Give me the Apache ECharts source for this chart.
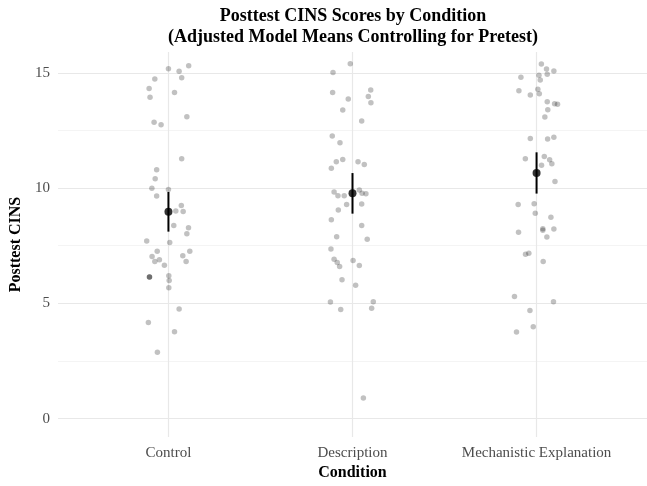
<!DOCTYPE html>
<html>
<head>
<meta charset="utf-8">
<script src="https://cdn.jsdelivr.net/npm/echarts@6/dist/echarts.min.js"></script>
<style>html,body{margin:0;padding:0;background:#fff;}#c{width:647px;height:486px;}</style>
</head>
<body>
<div id="c"></div>
<script>
const categories = ['Control', 'Description', 'Mechanistic Explanation'];
const yTicks = [0, 5, 10, 15];
const yMinorTicks = [2.5, 7.5, 12.5];

// jitter offsets (in category units) and posttest scores
const controlDx = [0,0.058,0.11,-0.074,0.072,-0.105,-0.10,0.033,0.10,-0.078,-0.04,0.072,-0.064,-0.072,-0.09,0,-0.064,0.07,0.04,0.08,0.029,0.109,0.10,-0.118,0.007,-0.061,0.116,-0.089,-0.049,-0.074,0.078,0.096,-0.022,-0.103,-0.103,-0.103,0.002,0.004,0.002,0.058,-0.109,0.033,-0.06];
const controlY  = [15.17,15.06,15.30,14.73,14.78,14.32,13.94,14.14,13.09,12.85,12.74,11.27,10.79,10.40,9.99,9.94,9.65,9.24,9.0,8.98,8.38,8.28,8.02,7.70,7.64,7.26,7.26,7.03,6.89,6.82,7.06,6.82,6.65,6.14,6.14,6.14,6.20,5.99,5.68,4.76,4.17,3.77,2.88];

const descDx = [-0.012,-0.106,-0.108,0.099,0.086,0.10,-0.023,-0.053,0.05,-0.11,-0.068,-0.053,-0.088,0.03,0.064,-0.115,-0.1,-0.079,-0.045,0.037,0.052,0.073,-0.032,0.05,-0.077,-0.115,0.05,-0.086,0.08,-0.117,-0.1,-0.083,-0.07,0.003,0.037,-0.057,0.017,-0.12,0.113,-0.064,0.104,0.059];
const descY  = [15.39,15.01,14.14,14.25,13.97,13.70,13.86,13.38,12.91,12.26,11.96,11.24,11.14,11.14,11.02,10.86,9.83,9.67,9.67,9.92,9.77,9.75,9.29,9.31,9.05,8.63,8.38,7.89,7.78,7.36,6.91,6.77,6.60,6.86,6.64,6.02,5.78,5.06,5.07,4.73,4.79,0.90];

const mechDx = [0.026,0.054,0.094,-0.085,0.013,0.058,0.02,-0.096,0.007,-0.034,0.015,0.058,0.098,0.114,0.061,0.045,-0.034,0.06,0.094,-0.061,0.042,0.071,0.083,0.027,0.1,-0.1,-0.013,-0.007,0.078,0.094,0.034,0.034,-0.098,0.056,-0.06,-0.042,0.036,-0.12,0.092,-0.036,-0.018,-0.109];
const mechY  = [15.38,15.16,15.08,14.80,14.89,14.93,14.69,14.22,14.28,14.04,14.09,13.74,13.66,13.63,13.40,13.08,12.15,12.13,12.20,11.27,11.37,11.23,11.05,10.99,10.28,9.29,9.32,8.91,8.73,8.22,8.23,8.17,8.08,7.88,7.13,7.17,6.82,5.30,5.07,4.69,3.98,3.76];

// adjusted model means and interval limits
const means = [8.97, 9.77, 10.65];
const lower = [8.11, 8.89, 9.76];
const upper = [9.83, 10.65, 11.55];

const groups = [[controlDx, controlY], [descDx, descY], [mechDx, mechY]];
const points = [];
groups.forEach((g, i) => g[0].forEach((dx, j) => points.push([i + dx, g[1][j]])));
const meanPts = means.map((m, i) => [i, m]);
const barData = means.map((m, i) => [i, lower[i], upper[i]]);

const serif = 'Liberation Serif, Times New Roman, serif';
const chart = echarts.init(document.getElementById('c'), null, {renderer: 'canvas'});
chart.setOption({
  backgroundColor: '#ffffff',
  animation: false,
  title: {
    text: 'Posttest CINS Scores by Condition\n(Adjusted Model Means Controlling for Pretest)',
    left: 353, top: 6, padding: 0, textAlign: 'center',
    textStyle: {fontFamily: serif, fontWeight: 'bold', fontSize: 18, lineHeight: 21, color: '#000'}
  },
  grid: {left: 58, right: 0, top: 52, bottom: 40, containLabel: false},
  xAxis: {
    type: 'value', min: -0.6, max: 2.6,
    name: 'Condition', nameLocation: 'middle', nameGap: 25,
    nameTextStyle: {fontFamily: serif, fontWeight: 'bold', fontSize: 16, color: '#000'},
    axisLine: {show: false},
    axisTick: {show: false, customValues: [0, 1, 2]},
    axisLabel: {customValues: [0, 1, 2], formatter: v => categories[Math.round(v)], fontFamily: serif, fontSize: 15, color: '#4D4D4D', margin: 8},
    splitLine: {show: true, lineStyle: {color: '#E8E8E8', width: 1.2}}
  },
  yAxis: [{
    type: 'value', min: -0.8, max: 15.9,
    name: 'Posttest CINS', nameLocation: 'middle', nameGap: 30, nameRotate: 90,
    nameTextStyle: {fontFamily: serif, fontWeight: 'bold', fontSize: 16, color: '#000'},
    axisLine: {show: false},
    axisTick: {show: false, customValues: yTicks},
    axisLabel: {customValues: yTicks, fontFamily: serif, fontSize: 15, color: '#4D4D4D', margin: 8},
    splitLine: {show: true, lineStyle: {color: '#E8E8E8', width: 1.2}}
  }, {
    type: 'value', min: -0.8, max: 15.9, position: 'left',
    axisLine: {show: false},
    axisTick: {show: false, customValues: yMinorTicks},
    axisLabel: {show: false, customValues: yMinorTicks},
    splitLine: {show: true, lineStyle: {color: '#F1F1F1', width: 0.8}}
  }],
  series: [{
    type: 'scatter', data: points, symbolSize: 5.5, yAxisIndex: 0,
    itemStyle: {color: 'rgba(0,0,0,0.3)'}, silent: true
  }, {
    type: 'custom', data: barData, yAxisIndex: 0,
    renderItem: (params, api) => {
      const p1 = api.coord([api.value(0), api.value(1)]);
      const p2 = api.coord([api.value(0), api.value(2)]);
      return {type: 'line', shape: {x1: p1[0], y1: p1[1], x2: p2[0], y2: p2[1]}, style: {stroke: '#000', lineWidth: 2}};
    },
    encode: {x: 0, y: [1, 2]}, silent: true
  }, {
    type: 'scatter', data: meanPts, symbolSize: 8, yAxisIndex: 0, z: 5,
    itemStyle: {color: '#000'}, silent: true
  }]
});
</script>
</body>
</html>
